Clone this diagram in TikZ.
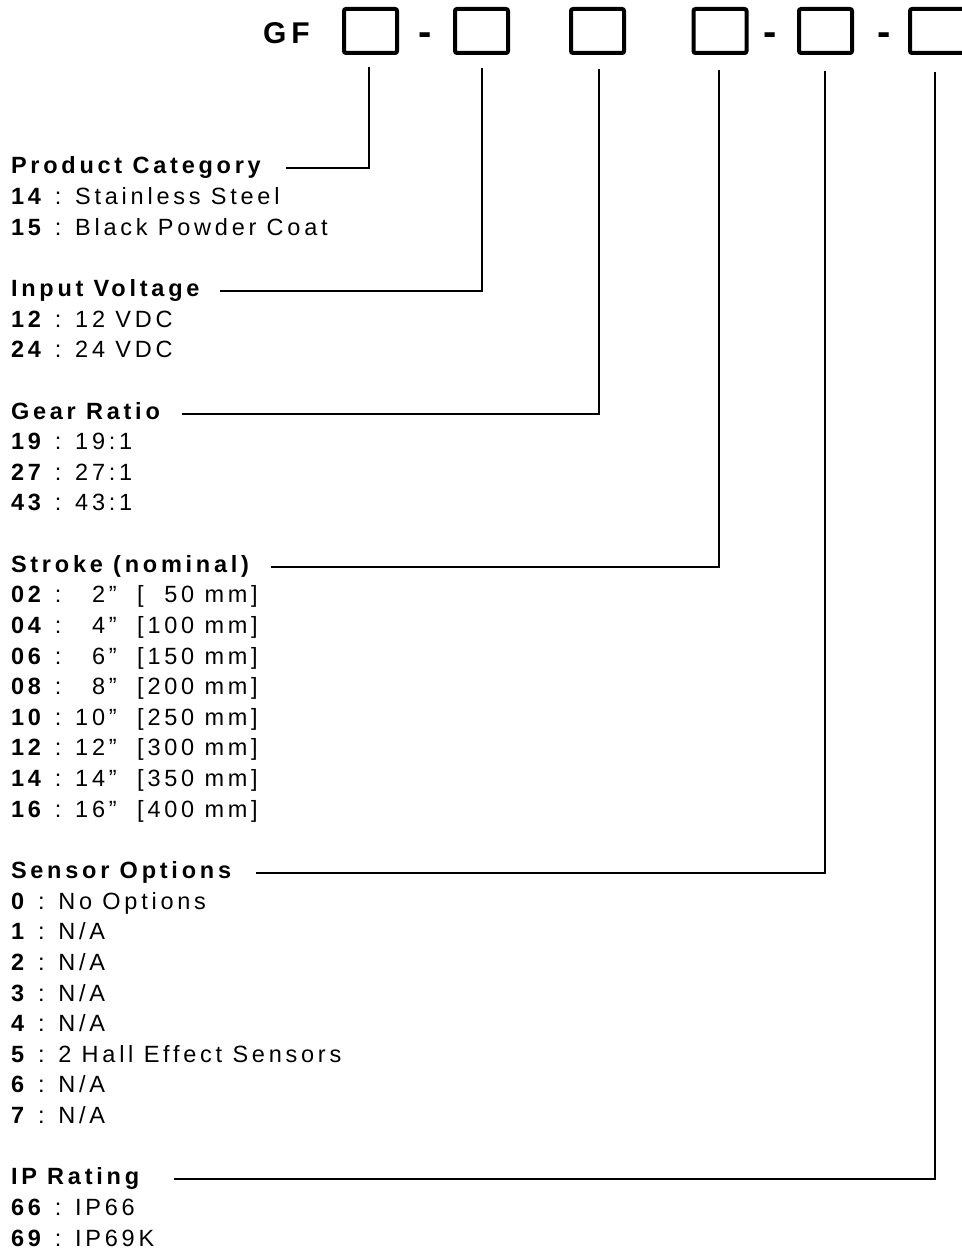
\documentclass[tikz,border=0pt]{standalone}
\usepackage{fontspec}
\setmainfont{Liberation Sans}[LetterSpace=16]
\newfontfamily\plainfont{Liberation Sans}
\usetikzlibrary{calc}
\tikzset{
  txt/.style={anchor=base west, inner sep=0pt, outer sep=0pt, font=\fontsize{23.5}{30.63}\selectfont},
  ttl/.style={txt, font=\fontsize{23.5}{30.63}\selectfont\bfseries},
  codebox/.style={draw=black, line width=4pt, rounded corners=2pt, minimum width=53pt, minimum height=44pt, inner sep=0pt},
  dashmark/.style={anchor=base, inner sep=0pt, font=\plainfont\fontsize{40}{40}\selectfont\bfseries},
  conn/.style={draw=black, line width=2pt}
}
\newcommand\rowy[1]{174+30.63*#1}
\begin{document}
\begin{tikzpicture}[x=1pt,y=-1pt]
\useasboundingbox (0,0) rectangle (961,1252);
% header
\node[anchor=base west, inner sep=0pt, font=\fontsize{30}{30}\selectfont\bfseries] (gf) at (263,44) {GF};
\node[codebox] (b1) at (370.5,31) {};
\node[dashmark] (d1) at (425.5,46) {-};
\node[codebox] (b2) at (481.5,31) {};
\node[codebox] (b3) at (597.5,31) {};
\node[codebox] (b4) at (720,31) {};
\node[dashmark] (d2) at (770,46) {-};
\node[codebox] (b5) at (825.5,31) {};
\node[dashmark] (d3) at (884,46) {-};
\node[codebox, minimum width=60pt] (b6) at (940,31) {};
% text rows
\node[ttl] (tpc) at (11,{\rowy{0}}) {Product Category};
\node[txt] (r1) at (11,{\rowy{1}}) {\textbf{14} : Stainless Steel};
\node[txt] (r2) at (11,{\rowy{2}}) {\textbf{15} : Black Powder Coat};
\node[ttl] (tiv) at (11,{\rowy{4}}) {Input Voltage};
\node[txt] (r5) at (11,{\rowy{5}}) {\textbf{12} : 12 VDC};
\node[txt] (r6) at (11,{\rowy{6}}) {\textbf{24} : 24 VDC};
\node[ttl] (tgr) at (11,{\rowy{8}}) {Gear Ratio};
\node[txt] (r9) at (11,{\rowy{9}}) {\textbf{19} : 19:1};
\node[txt] (r10) at (11,{\rowy{10}}) {\textbf{27} : 27:1};
\node[txt] (r11) at (11,{\rowy{11}}) {\textbf{43} : 43:1};
\node[ttl] (tst) at (11,{\rowy{13}}) {Stroke (nominal)};
\node[txt] (r14) at (11,{\rowy{14}}) {\textbf{02} : ^^^^20072”\ \ [^^^^200750 mm]};
\node[txt] (r15) at (11,{\rowy{15}}) {\textbf{04} : ^^^^20074”\ \ [100 mm]};
\node[txt] (r16) at (11,{\rowy{16}}) {\textbf{06} : ^^^^20076”\ \ [150 mm]};
\node[txt] (r17) at (11,{\rowy{17}}) {\textbf{08} : ^^^^20078”\ \ [200 mm]};
\node[txt] (r18) at (11,{\rowy{18}}) {\textbf{10} : 10”\ \ [250 mm]};
\node[txt] (r19) at (11,{\rowy{19}}) {\textbf{12} : 12”\ \ [300 mm]};
\node[txt] (r20) at (11,{\rowy{20}}) {\textbf{14} : 14”\ \ [350 mm]};
\node[txt] (r21) at (11,{\rowy{21}}) {\textbf{16} : 16”\ \ [400 mm]};
\node[ttl] (tso) at (11,{\rowy{23}}) {Sensor Options};
\node[txt] (r24) at (11,{\rowy{24}}) {\textbf{0} : No Options};
\node[txt] (r25) at (11,{\rowy{25}}) {\textbf{1} : N/A};
\node[txt] (r26) at (11,{\rowy{26}}) {\textbf{2} : N/A};
\node[txt] (r27) at (11,{\rowy{27}}) {\textbf{3} : N/A};
\node[txt] (r28) at (11,{\rowy{28}}) {\textbf{4} : N/A};
\node[txt] (r29) at (11,{\rowy{29}}) {\textbf{5} : 2 Hall Effect Sensors};
\node[txt] (r30) at (11,{\rowy{30}}) {\textbf{6} : N/A};
\node[txt] (r31) at (11,{\rowy{31}}) {\textbf{7} : N/A};
\node[ttl] (tip) at (11,{\rowy{33}}) {IP Rating};
\node[txt] (r34) at (11,{\rowy{34}}) {\textbf{66} : IP66};
\node[txt] (r35) at (11,{\rowy{35}}) {\textbf{69} : IP69K};
% connector ends
\coordinate (lpc) at (286,{\rowy{0}-5.5});
\coordinate (liv) at (220,{\rowy{4}-5.5});
\coordinate (lgr) at (182,{\rowy{8}-5.5});
\coordinate (lst) at (271,{\rowy{13}-5.5});
\coordinate (lso) at (256,{\rowy{23}-5.5});
\coordinate (lip) at (174,{\rowy{33}-5.5});
\coordinate (v1) at ($(b1.south)+(-2,12)$);
\coordinate (v2) at ($(b2.south)+(0.5,13)$);
\coordinate (v3) at ($(b3.south)+(1.5,14)$);
\coordinate (v4) at ($(b4.south)+(-1,15)$);
\coordinate (v5) at ($(b5.south)+(-0.5,16)$);
\coordinate (v6) at ($(b6.south)+(-5,17)$);
\draw[conn] (lpc) -| (v1);
\draw[conn] (liv) -| (v2);
\draw[conn] (lgr) -| (v3);
\draw[conn] (lst) -| (v4);
\draw[conn] (lso) -| (v5);
\draw[conn] (lip) -| (v6);
\end{tikzpicture}
\end{document}
